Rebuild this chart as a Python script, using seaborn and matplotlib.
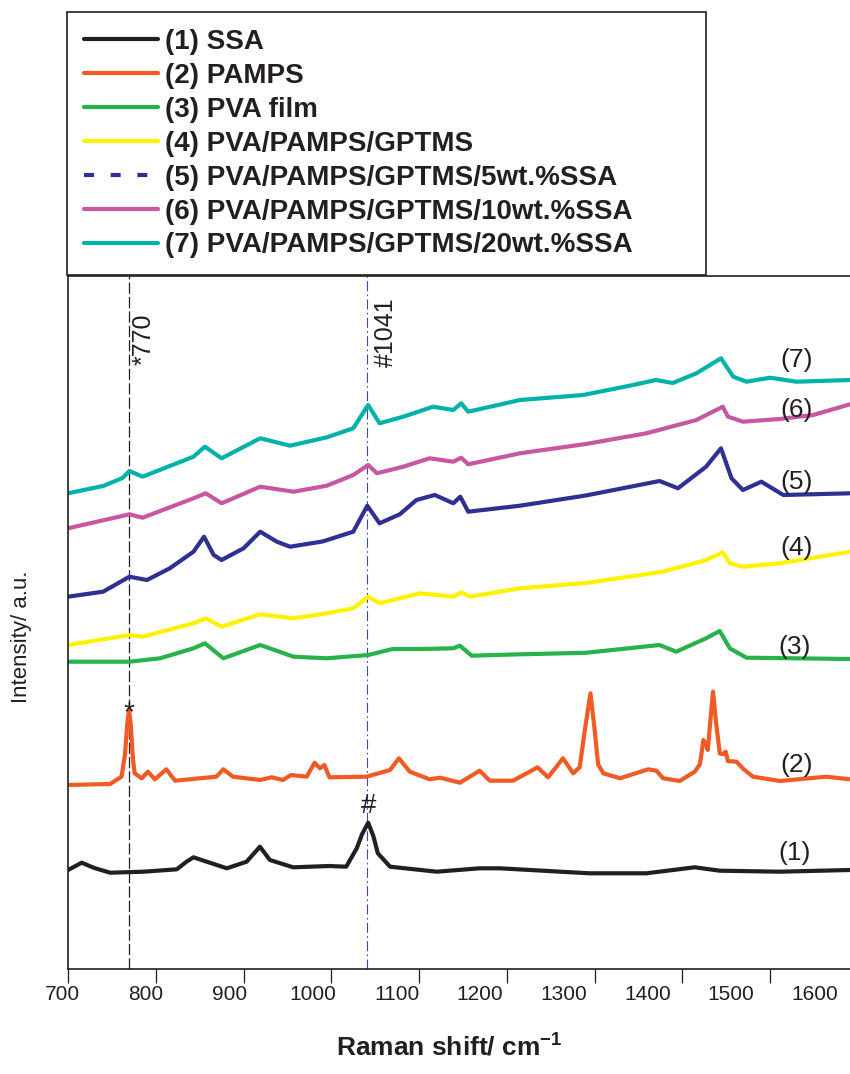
import numpy as np
import pandas as pd
import matplotlib
matplotlib.use("Agg")
import matplotlib.pyplot as plt
from matplotlib.lines import Line2D
import seaborn as sns

# ---------------- data (arbitrary intensity units) ----------------
ssa_x = [700, 715.6, 730, 748, 786, 824, 835, 843, 858, 881, 903.5, 918.7, 930, 956.6,
         997.6, 1017, 1029, 1035, 1042, 1048, 1053, 1067, 1120, 1169, 1192, 1294, 1359,
         1414, 1442.6, 1511, 1591]
ssa_y = [99.3, 106.6, 101.3, 96.6, 97.6, 100, 107.6, 112, 107.6, 101, 107.6, 122.6, 109.3, 102,
         103.3, 102.6, 121, 135, 146.6, 133, 116, 102.6, 97.6, 101, 101, 96, 96,
         102, 98.6, 97.6, 99.3]

pamps_x = [700, 748, 761, 765, 767.5, 769.5, 771.5, 774, 776, 784, 791, 799, 812, 822, 869,
           877, 888, 919, 932, 945, 954, 972, 981, 987, 992, 998, 1040, 1067, 1077, 1089.5,
           1112, 1124, 1146.5, 1169, 1180.6, 1207, 1226, 1235, 1247, 1264, 1275.5, 1283,
           1289, 1295.3, 1300, 1304, 1310, 1329, 1361, 1370.5, 1378, 1397, 1414, 1420, 1424,
           1427, 1429, 1432, 1435, 1438, 1442.6, 1446, 1449.4, 1452, 1456, 1461.6, 1470,
           1480.5, 1511, 1564, 1591]
pamps_y = [184.3, 185.3, 192.6, 215, 245, 259.3, 245, 210, 196, 191, 197.6, 190, 200, 188.6, 192.6,
           200, 192.6, 189.3, 192, 189.3, 194.3, 192.6, 206.6, 201, 204.3, 192, 192.6, 199.3, 211, 197.6,
           190, 191.6, 186.6, 198.6, 188.6, 188.6, 197.6, 202, 192, 211, 196, 202,
           240, 276, 240, 205, 196, 191, 200, 198.6, 191, 188.3, 197.6, 205, 229.3,
           224, 219.3, 250, 277.6, 250, 216, 215, 217.6, 208, 208, 207.6, 200,
           192.6, 188.3, 192.6, 190]

pva_x = [700, 770, 805, 843, 856, 877, 919, 957, 995, 1042, 1070, 1101, 1139, 1146.5, 1160,
         1215, 1290, 1374, 1393, 1427, 1442.6, 1454, 1473, 1591]
pva_y = [307.6, 307.6, 311, 321, 326, 311, 324.3, 312.6, 311, 314.3, 320.3, 320.3, 321, 323.6, 313.6,
         315, 316.5, 324.3, 317.6, 331, 338.3, 321, 311.6, 310.3]

gptms_x = [700, 770, 785, 843, 857, 875, 919, 957, 995, 1025, 1042, 1055, 1101, 1139, 1148,
           1158, 1215, 1290, 1378, 1427, 1446, 1454, 1469, 1511, 1591]
gptms_y = [324.3, 334.3, 332.6, 346, 351, 342.6, 355, 351, 356, 361, 372.6, 366, 376, 372.6, 377,
           372.6, 381, 386.3, 397.6, 409.3, 417, 406, 402.6, 406, 417.6]

ssa5_x = [700, 740, 770, 790, 816, 843, 855, 866, 875, 900, 919, 938, 953, 990, 1025, 1041,
          1055, 1078, 1097, 1118, 1139, 1147, 1156, 1215, 1290, 1374, 1395, 1427, 1444, 1456,
          1469, 1490, 1515, 1591]
ssa5_y = [372.6, 377.6, 392.6, 389.3, 401, 417.6, 432.6, 414.3, 409.3, 421, 437.6, 427.6, 422.6, 427.8,
          437.6, 463.6, 446, 455, 469.3, 474.3, 466, 472.6, 457.6, 463.6, 473.8, 488.3, 481, 502.6,
          521, 491, 479.3, 487.6, 474.3, 476]

ssa10_x = [700, 770, 785, 843, 857, 875, 919, 957, 995, 1025, 1042, 1052, 1082, 1112, 1139, 1148,
           1156, 1215, 1290, 1359, 1416, 1446, 1452, 1469, 1511, 1549, 1591]
ssa10_y = [441, 455, 451.6, 471, 476, 466, 482.6, 477.6, 483.6, 494.3, 504.3, 496, 502.6, 511, 507.6,
           511.6, 505, 516, 525.3, 536, 549.3, 562.6, 552.6, 547.6, 550.3, 554.3, 565]

ssa20_x = [700, 740, 762, 770, 785, 843, 856, 875, 919, 953, 995, 1025, 1042, 1055, 1082, 1116,
           1139, 1148, 1156, 1215, 1287, 1340, 1370, 1389, 1416, 1444, 1458, 1473, 1500, 1530, 1591]
ssa20_y = [476, 483.3, 491.3, 498.3, 492.6, 512.6, 522.6, 511, 531, 523.6, 532, 541, 564.3, 546, 552.6,
           562.6, 559.3, 566, 557.6, 569.3, 574.3, 583.6, 589.3, 586.3, 596, 611, 592.6, 587.6, 591.6,
           587.6, 589.3]

series_names = ["(1) SSA", "(2) PAMPS", "(3) PVA film", "(4) PVA/PAMPS/GPTMS",
                "(5) PVA/PAMPS/GPTMS/5wt.%SSA", "(6) PVA/PAMPS/GPTMS/10wt.%SSA",
                "(7) PVA/PAMPS/GPTMS/20wt.%SSA"]
series_x = [ssa_x, pamps_x, pva_x, gptms_x, ssa5_x, ssa10_x, ssa20_x]
series_y = [ssa_y, pamps_y, pva_y, gptms_y, ssa5_y, ssa10_y, ssa20_y]
series_colors = ["#231f20", "#f15a24", "#27b24a", "#fff200", "#2e3192", "#c757a1", "#00b2a9"]
curve_tags = ["(1)", "(2)", "(3)", "(4)", "(5)", "(6)", "(7)"]
tag_x = [1528, 1530, 1528, 1530, 1530, 1530, 1530]
tag_y = [116, 204.3, 322.6, 421.3, 487.6, 559.3, 609.3]

marker_lines = [770, 1041]
tick_values = [700, 800, 900, 1000, 1100, 1200, 1300, 1400, 1500]
tick_labels = [700, 800, 900, 1000, 1100, 1200, 1300, 1400, 1500, 1600]

# ---------------- figure ----------------
sns.set_theme(style="white")
plt.rcParams["font.family"] = ["Liberation Sans", "DejaVu Sans"]
plt.rcParams["mathtext.fontset"] = "custom"
plt.rcParams["mathtext.rm"] = "Liberation Sans"
plt.rcParams["mathtext.bf"] = "Liberation Sans:bold"
dark = "#231f20"

fig = plt.figure(figsize=(8.5, 10.74), dpi=100)
ax = fig.add_axes([68 / 850, (1074 - 969.3) / 1074, 782 / 850, (969.3 - 275.7) / 1074])

rows = []
for name, xs, ys in zip(series_names, series_x, series_y):
    for a, b in zip(xs, ys):
        rows.append((name, a, b))
df = pd.DataFrame(rows, columns=["sample", "shift", "intensity"])

for name, col in zip(series_names, series_colors):
    sub = df[df["sample"] == name]
    sns.lineplot(data=sub, x="shift", y="intensity", ax=ax, color=col, lw=3.0,
                 estimator=None, sort=False, legend=False)

ax.set_xlim(700, 1591)
ax.set_ylim(0, 693.6)

# reference lines
ax.axvline(marker_lines[0], color=dark, lw=0.9, ls=(0, (9, 2.5)), zorder=0.5)
ax.axvline(marker_lines[1], color="#3a48b0", lw=0.8, ls=(0, (9, 3, 1.5, 3)), zorder=0.5)

ax.text(772.5, 604.3, "*770", rotation=90, ha="left", va="bottom", fontsize=18, color=dark)
ax.text(1048, 602.6, "#1041", rotation=90, ha="left", va="bottom", fontsize=18, color=dark)
ax.text(769.5, 249, "*", ha="center", va="baseline", fontsize=20, color=dark)
ax.text(1042, 156, "#", ha="center", va="baseline", fontsize=20, color=dark)

for t, tx, ty in zip(curve_tags, tag_x, tag_y):
    ax.text(tx, ty, t, ha="center", va="center", fontsize=19, color=dark)

# axes styling
for s in ["left", "bottom", "top"]:
    ax.spines[s].set_color(dark)
    ax.spines[s].set_linewidth(1.2)
ax.spines["right"].set_visible(False)
ax.set_yticks([])
ax.set_xticks(tick_values)
ax.set_xticklabels([])
ax.tick_params(axis="x", direction="out", length=10, width=0.9, color=dark, bottom=True)

label_pos = np.linspace(693.6, 1550.4, len(tick_labels))
for p, lab in zip(label_pos, tick_labels):
    ax.text(p, -0.022, str(lab), transform=ax.get_xaxis_transform(), ha="center", va="top",
            fontsize=15, color=dark)

ax.set_xlabel(r"Raman shift/ cm$^{\mathbf{-1}}$", fontsize=19, fontweight="bold", color=dark)
ax.xaxis.set_label_coords(0.488, -0.09)
ax.set_ylabel("Intensity/ a.u.", fontsize=16, color=dark)
ax.yaxis.set_label_coords(-0.046, 0.48)

# legend
handles = []
for i, col in enumerate(series_colors):
    ls = (0, (2.4, 4)) if i == 4 else "-"
    handles.append(Line2D([0], [0], color=col, lw=3.0, ls=ls))
leg = fig.legend(handles, series_names, loc="upper left",
                 bbox_to_anchor=(67 / 850, 1 - 271 / 1074, 639 / 850, 259 / 1074),
                 mode="expand", borderaxespad=0, borderpad=0.61, handlelength=2.66,
                 handletextpad=0.25, labelspacing=0.285, fancybox=False, framealpha=1,
                 edgecolor=dark, prop={"weight": "bold", "size": 20})
leg.get_frame().set_linewidth(1.2)
for t in leg.get_texts():
    t.set_color(dark)

fig.savefig("out.png", dpi=100)
